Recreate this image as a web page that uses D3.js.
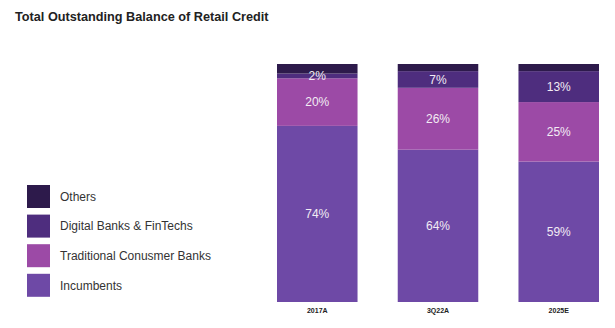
<!DOCTYPE html>
<html>
<head>
<meta charset="utf-8">
<script src="https://cdn.jsdelivr.net/npm/d3@7"></script>
<style>
  html, body { margin: 0; padding: 0; background: #fff; }
  svg { display: block; font-family: "Liberation Sans", Arial, sans-serif; }
</style>
</head>
<body>
<svg id="chart" width="615" height="328"></svg>
<script>
// Share of retail credit balance by lender type (%)
const categories = ["2017A", "3Q22A", "2025E"];
const seriesNames = ["Incumbents", "Traditional Conusmer Banks", "Digital Banks & FinTechs", "Others"];
const incumbents = [74, 64, 59];
const traditionalBanks = [20, 26, 25];
const digitalBanks = [2, 7, 13];
const others = [4, 3, 3];
const labelledSeries = ["Incumbents", "Traditional Conusmer Banks", "Digital Banks & FinTechs"];
const colors = ["#6e49a6", "#9c4aa6", "#4e2d7e", "#2d1a4b"];

const seriesValues = [incumbents, traditionalBanks, digitalBanks, others];
const rows = categories.map((c, i) => {
  const r = { category: c };
  seriesNames.forEach((s, k) => { r[s] = seriesValues[k][i]; });
  return r;
});

const svg = d3.select("#chart");

svg.append("text")
  .attr("x", 15).attr("y", 21)
  .attr("font-size", 12.7).attr("font-weight", "bold").attr("fill", "#222")
  .text("Total Outstanding Balance of Retail Credit");

const x = d3.scaleBand().domain(categories).range([277, 599]).paddingInner(0.333).paddingOuter(0);
const y = d3.scaleLinear().domain([0, 100]).range([302, 64]);
const color = d3.scaleOrdinal().domain(seriesNames).range(colors);

const stacked = d3.stack().keys(seriesNames)(rows);

const layers = svg.append("g").selectAll("g").data(stacked).join("g")
  .attr("fill", d => color(d.key));

layers.selectAll("rect").data(d => d).join("rect")
  .attr("x", d => x(d.data.category))
  .attr("width", x.bandwidth())
  .attr("y", d => y(d[1]))
  .attr("height", d => y(d[0]) - y(d[1]));

// value labels
const labelG = svg.append("g");
stacked.filter(s => labelledSeries.includes(s.key)).forEach(s => {
  labelG.selectAll(null).data(s).join("text")
    .attr("x", d => x(d.data.category) + x.bandwidth() / 2)
    .attr("y", d => (y(d[0]) + y(d[1])) / 2)
    .attr("dy", "0.36em")
    .attr("text-anchor", "middle")
    .attr("font-size", 12)
    .attr("fill", "#f2ecf4")
    .text(d => (d[1] - d[0]) + "%");
});

// category axis
const xAxis = svg.append("g").attr("transform", "translate(0,302)")
  .call(d3.axisBottom(x).tickSize(0).tickPadding(6));
xAxis.select(".domain").remove();
xAxis.selectAll("text").attr("font-size", 7).attr("font-weight", "bold")
  .attr("fill", "#222").attr("font-family", "Liberation Sans, Arial, sans-serif");

// legend
const legendOrder = ["Others", "Digital Banks & FinTechs", "Traditional Conusmer Banks", "Incumbents"];
const lg = svg.append("g").selectAll("g").data(legendOrder).join("g")
  .attr("transform", (d, i) => `translate(27, ${185 + i * 29.6})`);
lg.append("rect").attr("width", 23).attr("height", 23).attr("fill", d => color(d));
lg.append("text").attr("x", 33).attr("y", 11.5).attr("dy", "0.36em")
  .attr("font-size", 12).attr("fill", "#333").text(d => d);
</script>
</body>
</html>
